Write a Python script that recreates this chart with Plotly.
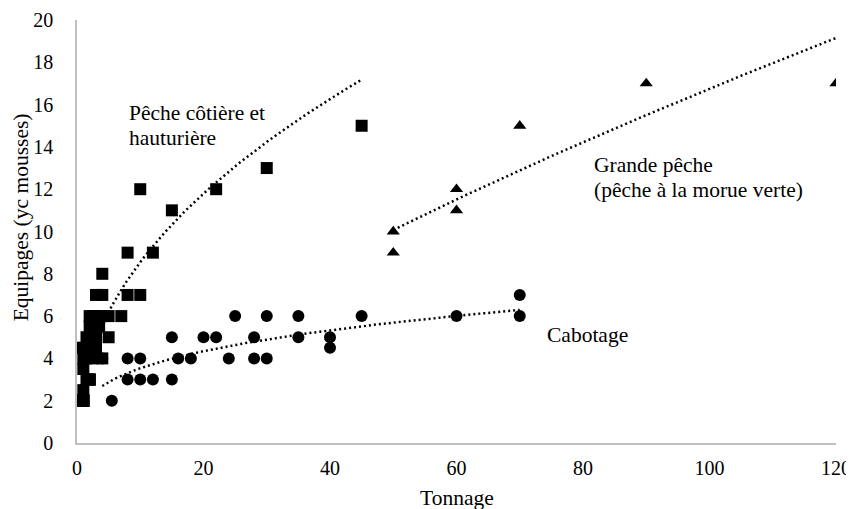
import numpy as np
import plotly.graph_objects as go

# Pêche côtière et hauturière (squares) — several small boats overlap in the dense corner
cotiere_tonnage = [0.5, 1, 1, 1.5, 1, 2, 1, 1.5, 2.5, 0.5, 1, 2, 3, 4, 1.5, 2.5, 3, 2, 3.5, 5,
                   2, 2.5, 3, 4, 5, 7, 3, 4, 8, 10, 4, 8, 12, 10, 15, 22, 30, 45,
                   0.5, 0.5, 0.5, 0.5, 0.5, 0.5, 1, 1, 1, 1, 2, 2]
cotiere_equipage = [2, 2, 2.5, 3, 3.5, 3, 4, 4, 4, 4.5, 4.5, 4.5, 4.5, 4, 5, 5, 5, 5.5, 5.5, 5,
                    6, 6, 6, 6, 6, 6, 7, 7, 7, 7, 8, 9, 9, 12, 11, 12, 13, 15,
                    2, 2, 2, 2, 2, 2, 2, 2, 2, 2, 3, 3]

# Cabotage (circles)
cabotage_tonnage = [4, 5.5, 8, 10, 12, 15, 8, 10, 16, 18, 24, 28, 30, 40, 15, 20, 22, 28, 35, 40,
                    25, 30, 35, 45, 60, 70, 70]
cabotage_equipage = [4, 2, 3, 3, 3, 3, 4, 4, 4, 4, 4, 4, 4, 4.5, 5, 5, 5, 5, 5, 5,
                     6, 6, 6, 6, 6, 6, 7]

# Grande pêche (triangles)
grande_tonnage = [50, 50, 60, 60, 70, 90, 120]
grande_equipage = [9, 10, 11, 12, 15, 17, 17]

x_ticks = [0, 20, 40, 60, 80, 100, 120]
y_ticks = [0, 2, 4, 6, 8, 10, 12, 14, 16, 18, 20]

FONT = "Liberation Serif"


def power_trend(xs, ys, n=80):
    xs = np.asarray(xs, float)
    ys = np.asarray(ys, float)
    b, a = np.polyfit(np.log(xs), np.log(ys), 1)
    xx = np.linspace(xs.min(), xs.max(), n)
    return xx, np.exp(a) * xx ** b


fig = go.Figure()

dot_line = dict(color="black", width=2.5, dash="2px,3px")

for xs, ys in [(cabotage_tonnage, cabotage_equipage),
               (cotiere_tonnage, cotiere_equipage),
               (grande_tonnage, grande_equipage)]:
    tx, ty = power_trend(xs, ys)
    fig.add_trace(go.Scatter(x=tx, y=ty, mode="lines", line=dot_line,
                             hoverinfo="skip", showlegend=False))

fig.add_trace(go.Scatter(x=cabotage_tonnage, y=cabotage_equipage, mode="markers",
                         marker=dict(symbol="circle", size=12, color="black"),
                         name="Cabotage", showlegend=False))
fig.add_trace(go.Scatter(x=cotiere_tonnage, y=cotiere_equipage, mode="markers",
                         marker=dict(symbol="square", size=12, color="black"),
                         name="Pêche côtière et hauturière", showlegend=False))
fig.add_trace(go.Scatter(x=grande_tonnage, y=grande_equipage, mode="markers",
                         marker=dict(symbol="triangle-up", size=11.5, color="black"),
                         name="Grande pêche", showlegend=False))

ann_font = dict(family=FONT, size=21.5, color="black")
annotations = [
    dict(x=7.9, y=15.6, text="Pêche côtière et"),
    dict(x=7.9, y=14.42, text="hauturière"),
    dict(x=81.5, y=13.14, text="Grande pêche"),
    dict(x=81.4, y=11.96, text="(pêche à la morue verte)"),
    dict(x=74, y=5.1, text="Cabotage"),
]
for a in annotations:
    fig.add_annotation(xref="x", yref="y", xanchor="left", yanchor="middle",
                       showarrow=False, font=ann_font, **a)

# axis titles
fig.add_annotation(xref="paper", yref="paper", x=0.5, y=-0.13, xanchor="center",
                   yanchor="middle", showarrow=False, text="Tonnage", font=ann_font)
fig.add_annotation(xref="paper", yref="paper", x=-0.0735, y=0.534, xanchor="center",
                   yanchor="middle", showarrow=False, text="Equipages (yc mousses)",
                   textangle=-90, font=ann_font)

# page body adds an 8px offset; margins compensate so the plot sits where the reference has it
fig.update_layout(
    width=854, height=509,
    margin=dict(l=69, r=26, t=12, b=74),
    paper_bgcolor="white", plot_bgcolor="white",
    font=dict(family=FONT, size=20, color="black"),
    showlegend=False,
)
fig.update_xaxes(
    range=[0, 120], tickvals=x_ticks, ticktext=[str(v) for v in x_ticks],
    showgrid=False, zeroline=False, showline=True, linecolor="#bfbfbf", linewidth=1.5,
    ticks="", ticklabelstandoff=6, automargin=False,
)
fig.update_yaxes(
    range=[0, 20], tickvals=y_ticks, ticktext=[str(v) for v in y_ticks],
    showgrid=False, zeroline=False, showline=True, linecolor="#bfbfbf", linewidth=1.5,
    ticks="", ticklabelstandoff=18, automargin=False,
)

fig.write_html("out.html")
